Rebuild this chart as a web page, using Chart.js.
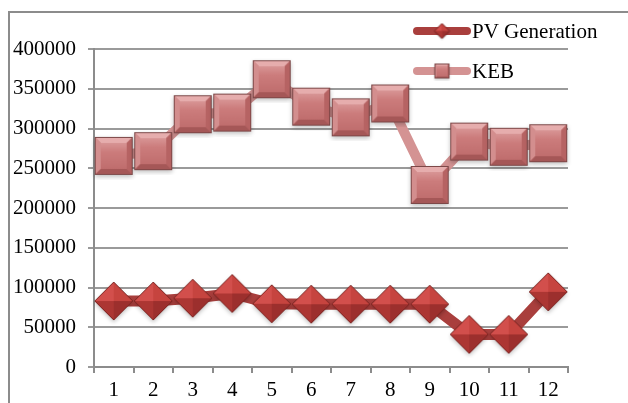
<!DOCTYPE html>
<html>
<head>
<meta charset="utf-8">
<script src="https://cdn.jsdelivr.net/npm/chart.js@4.4.1/dist/chart.umd.min.js"></script>
<style>
  html, body { margin: 0; padding: 0; background: #fff; }
  body { width: 628px; height: 403px; position: relative; overflow: hidden; }
  .frame {
    position: absolute; left: 8px; top: 11px; width: 700px; height: 500px;
    border-top: 2px solid #8c8c8c; border-left: 2px solid #8c8c8c;
  }
  #chart { position: absolute; left: 0; top: 0; }
</style>
</head>
<body>
<div class="frame"></div>
<canvas id="chart" width="628" height="403"></canvas>
<script>
// chart data
const months = ['1', '2', '3', '4', '5', '6', '7', '8', '9', '10', '11', '12'];
const pvGeneration = [83000, 83000, 86500, 92500, 79500, 79000, 79000, 79000, 79000, 41000, 41000, 94500];
const keb = [265500, 271500, 318000, 320000, 362000, 327500, 314000, 331500, 229000, 283500, 277000, 281500];
const yTicks = [0, 50000, 100000, 150000, 200000, 250000, 300000, 350000, 400000];

const serif = '"Liberation Serif", "DejaVu Serif", serif';
const fontSize = 21;

// bevelled square marker
function makeSquare(size) {
    const pad = Math.round(size * 0.12);
    const c = document.createElement('canvas');
    c.width = size + pad * 2;
    c.height = size + pad * 2;
    const g = c.getContext('2d');
    const x0 = pad, y0 = pad, s = size, b = Math.max(2, Math.round(size * 0.16));

    g.save();
    g.shadowColor = 'rgba(0,0,0,0.25)';
    g.shadowBlur = size * 0.12;
    g.shadowOffsetY = size * 0.06;
    g.fillStyle = '#c47272';
    g.fillRect(x0, y0, s, s);
    g.restore();

    function poly(pts, fill) {
        g.beginPath();
        g.moveTo(pts[0][0], pts[0][1]);
        for (let i = 1; i < pts.length; i++) g.lineTo(pts[i][0], pts[i][1]);
        g.closePath();
        g.fillStyle = fill;
        g.fill();
    }
    const x1 = x0 + s, y1 = y0 + s;
    poly([[x0, y0], [x1, y0], [x1 - b, y0 + b], [x0 + b, y0 + b]], '#e6adad');
    poly([[x0, y0], [x0 + b, y0 + b], [x0 + b, y1 - b], [x0, y1]], '#d38e8e');
    poly([[x1, y0], [x1, y1], [x1 - b, y1 - b], [x1 - b, y0 + b]], '#b66363');
    poly([[x0, y1], [x0 + b, y1 - b], [x1 - b, y1 - b], [x1, y1]], '#a55757');

    const grad = g.createLinearGradient(0, y0 + b, 0, y1 - b);
    grad.addColorStop(0, '#d89595');
    grad.addColorStop(0.35, '#cc7c7c');
    grad.addColorStop(1, '#c06e6e');
    g.fillStyle = grad;
    g.fillRect(x0 + b, y0 + b, s - 2 * b, s - 2 * b);

    g.strokeStyle = '#7d4848';
    g.lineWidth = 1;
    g.strokeRect(x0 + 0.5, y0 + 0.5, s - 1, s - 1);
    return c;
}

// pyramid diamond marker
function makeDiamond(size) {
    const pad = Math.round(size * 0.12);
    const c = document.createElement('canvas');
    c.width = size + pad * 2;
    c.height = size + pad * 2;
    const g = c.getContext('2d');
    const cx = c.width / 2, cy = c.height / 2, r = size / 2;

    g.save();
    g.shadowColor = 'rgba(0,0,0,0.25)';
    g.shadowBlur = size * 0.12;
    g.shadowOffsetY = size * 0.06;
    g.beginPath();
    g.moveTo(cx, cy - r); g.lineTo(cx + r, cy); g.lineTo(cx, cy + r); g.lineTo(cx - r, cy);
    g.closePath();
    g.fillStyle = '#b33a38';
    g.fill();
    g.restore();

    function tri(ax, ay, bx, by, fill) {
        g.beginPath();
        g.moveTo(cx, cy); g.lineTo(ax, ay); g.lineTo(bx, by);
        g.closePath();
        g.fillStyle = fill;
        g.fill();
    }
    tri(cx - r, cy, cx, cy - r, '#d24f4c');
    tri(cx, cy - r, cx + r, cy, '#c6443f');
    tri(cx + r, cy, cx, cy + r, '#9c2f2d');
    tri(cx, cy + r, cx - r, cy, '#ac3633');

    g.beginPath();
    g.moveTo(cx, cy - r); g.lineTo(cx + r, cy); g.lineTo(cx, cy + r); g.lineTo(cx - r, cy);
    g.closePath();
    g.strokeStyle = '#7a2421';
    g.lineWidth = 1;
    g.stroke();
    return c;
}

const squareBig = makeSquare(38);
const diamondBig = makeDiamond(38);
const squareSmall = makeSquare(15);
const diamondSmall = makeDiamond(15);

const legendItems = [
    { label: 'PV Generation', color: '#a93f3d', marker: diamondSmall, y: 31 },
    { label: 'KEB', color: '#d49393', marker: squareSmall, y: 71 }
];

const legendPlugin = {
    id: 'sideLegend',
    afterDraw(chart) {
        const ctx = chart.ctx;
        ctx.save();
        legendItems.forEach(item => {
            ctx.strokeStyle = item.color;
            ctx.lineWidth = 8;
            ctx.lineCap = 'round';
            ctx.beginPath();
            ctx.moveTo(417, item.y);
            ctx.lineTo(467, item.y);
            ctx.stroke();
            const m = item.marker;
            ctx.drawImage(m, 442 - m.width / 2, item.y - m.height / 2);
            ctx.fillStyle = '#000';
            ctx.font = fontSize + 'px ' + serif;
            ctx.textBaseline = 'middle';
            ctx.textAlign = 'left';
            ctx.fillText(item.label, 472, item.y + 1);
        });
        ctx.restore();
    }
};

new Chart(document.getElementById('chart'), {
    type: 'line',
    data: {
        labels: months,
        datasets: [
            {
                label: 'PV Generation',
                data: pvGeneration,
                borderColor: '#a93f3d',
                borderWidth: 11,
                pointStyle: diamondBig,
                tension: 0
            },
            {
                label: 'KEB',
                data: keb,
                borderColor: '#d49393',
                borderWidth: 10,
                pointStyle: squareBig,
                tension: 0
            }
        ]
    },
    options: {
        responsive: false,
        animation: false,
        devicePixelRatio: 1,
        layout: {
            padding: { left: 8, top: 49, right: 60, bottom: 0 }
        },
        plugins: {
            legend: { display: false },
            tooltip: { enabled: false }
        },
        scales: {
            x: {
                offset: true,
                grid: {
                    offset: true,
                    drawOnChartArea: false,
                    color: '#8c8c8c',
                    lineWidth: 2,
                    tickLength: 6
                },
                border: { color: '#8c8c8c', width: 2 },
                ticks: {
                    color: '#000',
                    padding: 5,
                    maxRotation: 0,
                    autoSkip: false,
                    font: { family: serif, size: fontSize }
                },
                afterFit: function(scale) { scale.height = 36; }
            },
            y: {
                min: 0,
                max: 400000,
                afterBuildTicks: function(scale) {
                    scale.ticks = yTicks.map(v => ({ value: v }));
                },
                grid: {
                    color: '#9a9a9a',
                    lineWidth: 2,
                    tickLength: 6
                },
                border: { color: '#8c8c8c', width: 2 },
                ticks: {
                    color: '#000',
                    padding: 12,
                    autoSkip: false,
                    font: { family: serif, size: fontSize },
                    callback: function(value) { return String(value); }
                },
                afterFit: function(scale) { scale.width = 86; }
            }
        }
    },
    plugins: [legendPlugin]
});
</script>
</body>
</html>
